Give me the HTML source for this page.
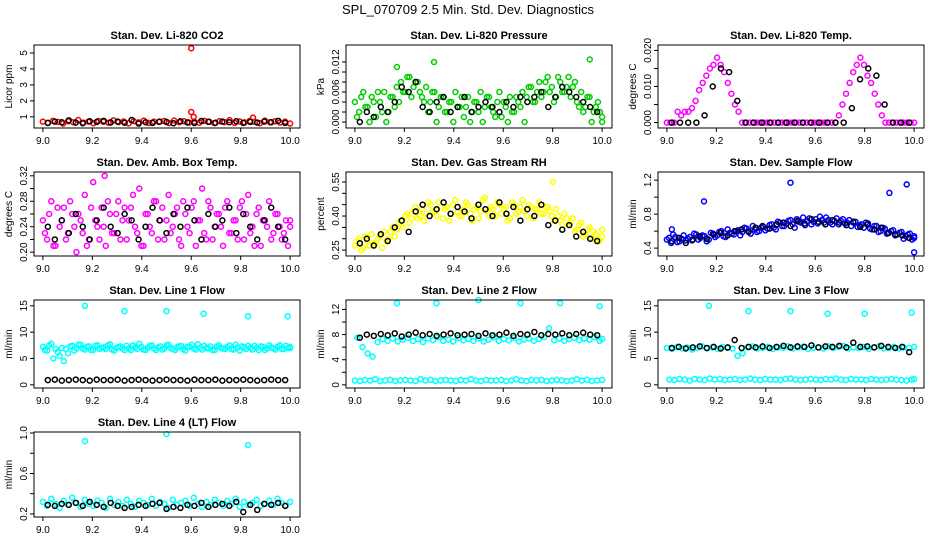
<!DOCTYPE html>
<html><head><meta charset="utf-8"><style>
body{margin:0;background:#fff;}
svg{display:block;font-family:"Liberation Sans",sans-serif;}
</style></head><body>
<svg id="c" width="936" height="540"></svg>
<script>
const xTicks=[9.0,9.2,9.4,9.6,9.8,10.0];
const co2Col=[0.70,0.62,0.75,0.68,0.58,0.72,0.66,0.80,0.64,0.70,0.60,0.74,0.69,0.63,0.78,0.67,0.71,0.59,0.73,0.65,0.76,0.62,0.70,0.68,0.74,0.61,0.77,0.66,0.72,0.64,0.70,0.63,0.75,0.69,0.60,0.73,0.67,0.79,0.62,0.71,0.65,0.74,0.68,0.60,0.76,0.66,0.72,0.64,0.70,0.58];
const co2Blk=[0.62,0.70,0.66,0.78,0.64,0.60,0.72,0.68,0.75,0.65,0.70,0.63,0.80,0.58,0.66,0.62,0.70,0.68,0.60,0.72,0.65,0.61,0.74,0.69,0.63,0.70,0.66,0.72,0.62,0.68,0.64,0.70,0.66,0.75,0.62];
const co2Out=[[9.6,5.3],[9.6,1.3],[9.61,1.0],[9.85,0.95]];
const presCol=[0.004,0.002,0.006,0.003,0.005,0.001,0.004,0.006,0.002,0.005,0.007,0.008,0.006,0.009,0.007,0.008,0.005,0.007,0.004,0.006,0.003,0.005,0.002,0.004,0.006,0.003,0.001,0.005,0.002,0.004,0.006,0.003,0.005,0.002,0.004,0.001,0.003,0.005,0.002,0.004,0.006,0.005,0.007,0.004,0.008,0.006,0.009,0.007,0.005,0.008,0.006,0.009,0.007,0.004,0.006,0.003,0.005,0.002,0.004,0.001];
const presCol2=[0.001,0.005,0.003,0.000,0.004,0.006,0.002,0.000,0.005,0.003,0.004,0.006,0.009,0.005,0.008,0.006,0.004,0.002,0.006,0.000,0.005,0.002,0.004,0.000,0.003,0.005,0.003,0.000,0.004,0.002,0.000,0.005,0.003,0.001,0.006,0.004,0.000,0.002,0.005,0.003,0.000,0.007,0.004,0.006,0.005,0.008,0.006,0.004,0.009,0.006,0.007,0.005,0.008,0.003,0.002,0.005,0.000,0.003,0.002,0.000];
const presBlk=[0.000,0.002,0.001,0.003,0.002,0.004,0.007,0.006,0.008,0.003,0.002,0.004,0.005,0.002,0.003,0.005,0.002,0.003,0.004,0.003,0.002,0.004,0.003,0.005,0.004,0.005,0.006,0.003,0.005,0.007,0.006,0.005,0.004,0.003,0.002];
const presOut=[[9.17,0.011],[9.32,0.012],[9.95,0.0125]];
const tempCol=[0,0,0,0.003,0.002,0.003,0.003,0.004,0.006,0.009,0.011,0.013,0.015,0.016,0.018,0.016,0.014,0.011,0.008,0.005,0.003,0,0,0,0,0,0,0,0,0,0,0,0,0,0,0,0,0,0,0,0,0,0,0,0,0,0,0,0.002,0.005,0.008,0.011,0.014,0.016,0.018,0.016,0.013,0.011,0.008,0.005,0.002,0,0,0,0,0,0,0,0,0];
const tempBlk=[0,0,0,0,0.002,0.010,0.015,0.014,0.006,0,0,0,0,0,0,0,0,0,0,0,0,0,0.004,0.012,0.015,0.013,0.005,0,0,0];
const ambCol=[0.25,0.22,0.28,0.21,0.24,0.27,0.23,0.26,0.20,0.25,0.29,0.22,0.31,0.24,0.27,0.21,0.26,0.23,0.28,0.25,0.22,0.27,0.24,0.30,0.21,0.26,0.23,0.28,0.25,0.22,0.29,0.24,0.27,0.21,0.26,0.23,0.28,0.25,0.30,0.22,0.27,0.24,0.26,0.21,0.28,0.23,0.25,0.27,0.22,0.29,0.24,0.26,0.21,0.25,0.28,0.23,0.26,0.22,0.25,0.24];
const ambCol2=[0.23,0.26,0.21,0.27,0.25,0.22,0.28,0.24,0.26,0.23,0.21,0.27,0.25,0.22,0.24,0.28,0.23,0.26,0.22,0.27,0.25,0.29,0.23,0.21,0.26,0.24,0.28,0.22,0.27,0.25,0.23,0.26,0.22,0.28,0.24,0.27,0.21,0.25,0.23,0.28,0.22,0.26,0.24,0.27,0.23,0.25,0.22,0.28,0.26,0.23,0.21,0.27,0.25,0.24,0.22,0.26,0.24,0.23,0.21,0.25];
const ambBlk=[0.24,0.22,0.25,0.23,0.26,0.24,0.22,0.25,0.27,0.24,0.23,0.26,0.25,0.22,0.24,0.27,0.25,0.23,0.26,0.24,0.27,0.25,0.22,0.26,0.24,0.25,0.27,0.23,0.26,0.24,0.22,0.25,0.27,0.24,0.22];
const ambOut=[[9.25,0.32]];
const rhCol=[0.27,0.30,0.26,0.29,0.32,0.28,0.31,0.33,0.30,0.35,0.34,0.38,0.40,0.37,0.42,0.39,0.43,0.41,0.45,0.42,0.46,0.39,0.44,0.41,0.47,0.40,0.43,0.45,0.38,0.44,0.42,0.48,0.40,0.43,0.46,0.41,0.44,0.39,0.45,0.42,0.47,0.40,0.44,0.43,0.46,0.41,0.44,0.40,0.43,0.38,0.41,0.36,0.39,0.34,0.37,0.32,0.35,0.33,0.30,0.34];
const rhCol2=[0.29,0.25,0.31,0.27,0.28,0.30,0.26,0.29,0.33,0.31,0.37,0.35,0.41,0.39,0.44,0.40,0.38,0.46,0.42,0.40,0.44,0.43,0.38,0.45,0.42,0.40,0.46,0.41,0.43,0.39,0.47,0.42,0.44,0.40,0.45,0.43,0.38,0.46,0.41,0.44,0.42,0.45,0.39,0.43,0.41,0.44,0.42,0.38,0.40,0.36,0.39,0.37,0.33,0.36,0.31,0.34,0.30,0.32,0.29,0.31];
const rhBlk=[0.28,0.30,0.27,0.32,0.29,0.35,0.38,0.33,0.42,0.45,0.40,0.43,0.46,0.41,0.44,0.42,0.39,0.45,0.43,0.40,0.46,0.41,0.44,0.38,0.43,0.40,0.45,0.36,0.38,0.34,0.36,0.31,0.33,0.30,0.29];
const rhOut=[[9.8,0.55]];
const sfCol=[0.50,0.46,0.53,0.48,0.55,0.51,0.49,0.56,0.52,0.54,0.50,0.57,0.55,0.60,0.53,0.58,0.56,0.61,0.59,0.63,0.57,0.62,0.60,0.65,0.63,0.68,0.62,0.70,0.66,0.72,0.68,0.74,0.70,0.67,0.75,0.71,0.69,0.73,0.76,0.70,0.72,0.68,0.74,0.70,0.66,0.71,0.67,0.64,0.69,0.62,0.66,0.60,0.63,0.58,0.61,0.56,0.59,0.54,0.57,0.52];
const sfCol2=[0.52,0.56,0.47,0.51,0.49,0.53,0.57,0.50,0.55,0.48,0.58,0.53,0.59,0.54,0.62,0.57,0.60,0.55,0.64,0.60,0.66,0.59,0.64,0.61,0.67,0.64,0.71,0.66,0.69,0.73,0.64,0.71,0.76,0.72,0.68,0.74,0.77,0.70,0.73,0.68,0.75,0.72,0.69,0.73,0.70,0.65,0.68,0.70,0.63,0.66,0.59,0.64,0.57,0.60,0.55,0.58,0.51,0.56,0.50,0.54];
const sfBlk=[0.48,0.52,0.46,0.50,0.54,0.51,0.56,0.58,0.55,0.60,0.62,0.59,0.64,0.66,0.63,0.68,0.70,0.66,0.72,0.69,0.74,0.71,0.68,0.73,0.70,0.67,0.71,0.65,0.68,0.62,0.64,0.58,0.56,0.55,0.52];
const sfOut=[[9.02,0.62],[9.15,0.95],[9.5,1.17],[9.9,1.05],[9.97,1.15],[10.0,0.35]];
const l1Col=[7.2,6.5,7.8,6.8,5.5,4.5,6.0,7.4,6.9,7.6,6.7,7.3,6.6,7.5,7.0,6.8,7.7,6.5,7.2,6.9,7.4,6.6,7.1,7.8,6.7,7.0,7.5,6.6,7.3,6.9,7.6,6.8,7.1,7.4,6.5,7.2,6.9,7.7,6.7,7.0,7.3,6.6,7.5,6.9,7.2,6.8,7.6,6.5,7.1,7.4,6.7,7.0,7.3,6.6,7.5,6.9,7.2,6.8,7.4,7.0];
const l1Col2=[6.6,7.5,5.0,6.2,7.0,6.8,7.3,6.5,7.6,6.9,7.2,6.6,7.4,6.8,7.1,7.5,6.7,7.0,7.3,6.6,6.9,7.5,6.8,7.2,6.6,7.4,6.9,7.1,6.7,7.5,7.0,6.6,7.3,6.8,7.2,7.6,6.7,7.0,7.4,6.9,6.6,7.3,7.0,6.8,7.5,6.7,7.1,7.3,6.8,7.0,7.4,6.6,7.2,6.9,7.1,6.7,7.5,6.8,7.0,7.2];
const l1Blk=[0.9,1.0,0.8,0.9,1.0,0.9,0.8,1.0,0.9,0.9,1.0,0.8,0.9,1.0,0.9,0.8,0.9,1.0,0.9,0.9,0.8,1.0,0.9,0.9,1.0,0.8,0.9,0.9,1.0,0.9,0.8,0.9,1.0,0.9,0.9];
const l1Out=[[9.17,15],[9.33,14],[9.5,14],[9.65,13.5],[9.83,13],[9.99,13]];
const l2Low=[0.7,0.6,0.8,0.7,0.9,0.6,0.7,0.8,0.6,0.7,0.8,0.7,0.6,0.9,0.7,0.8,0.6,0.7,0.8,0.7,0.6,0.8,0.7,0.9,0.7,0.6,0.8,0.7,0.7,0.8,0.6,0.7,0.9,0.7,0.6,0.8,0.7,0.8,0.6,0.7,0.8,0.7,0.6,0.7,0.9,0.7,0.8,0.6,0.7,0.8];
const l2High=[7.5,6.0,5.0,4.5,6.8,7.3,7.0,7.4,6.9,7.2,7.5,7.0,7.3,6.8,7.4,7.1,7.6,7.0,7.2,6.9,7.5,7.1,7.3,7.0,7.4,6.9,7.2,7.6,7.0,7.3,7.1,7.5,6.9,7.2,7.4,7.0,7.3,7.6,9.0,7.1,7.4,7.0,7.3,7.5,7.1,7.4,7.2,7.6,7.0,7.3];
const l2Blk=[7.5,8.0,7.8,8.1,7.9,8.2,7.7,8.0,8.3,7.9,8.1,7.8,8.0,8.2,7.9,8.0,8.1,7.8,8.2,7.9,8.0,8.3,7.8,8.1,8.0,8.4,7.9,8.1,8.0,8.2,7.9,8.1,8.3,8.0,7.9];
const l2Out=[[9.17,13],[9.33,13],[9.5,13.5],[9.67,13],[9.83,13],[9.99,12.5]];
const l3High=[7.0,6.8,7.2,6.9,7.1,6.7,7.0,7.3,6.9,7.1,6.8,7.2,7.0,6.9,5.5,6.0,7.1,7.3,6.9,7.0,7.2,6.8,7.1,7.0,7.3,6.9,7.1,7.2,6.8,7.0,7.1,6.9,7.3,7.0,7.2,7.4,6.9,7.1,7.0,7.2,6.8,7.1,7.3,6.9,7.0,7.2,6.9,7.1,7.0,7.2];
const l3Low=[1.0,0.9,1.1,1.0,0.8,1.1,1.0,0.9,1.2,1.0,1.1,0.9,1.0,1.1,0.9,1.0,1.2,1.0,0.9,1.1,1.0,1.0,0.9,1.1,1.2,1.0,0.9,1.0,1.1,1.0,0.9,1.1,1.0,1.2,1.0,0.9,1.1,1.0,1.0,0.9,1.1,1.0,0.9,1.0,1.1,1.0,0.9,0.8,1.0,1.1];
const l3Blk=[7.0,7.2,6.9,7.1,7.3,7.0,7.2,6.9,7.1,8.5,7.0,7.2,7.1,7.3,7.0,7.2,7.4,7.1,7.3,7.2,7.5,7.1,7.3,7.2,7.4,7.1,8.0,7.2,7.3,7.1,7.4,7.2,7.0,7.2,6.2];
const l3Out=[[9.17,15],[9.33,14],[9.5,14],[9.65,13.5],[9.8,13.5],[9.99,13.7]];
const l4Col=[0.32,0.28,0.35,0.30,0.26,0.33,0.29,0.36,0.31,0.27,0.34,0.30,0.28,0.33,0.31,0.26,0.35,0.29,0.32,0.28,0.34,0.30,0.27,0.33,0.31,0.29,0.35,0.28,0.32,0.30,0.26,0.34,0.29,0.31,0.33,0.28,0.36,0.30,0.27,0.32,0.29,0.34,0.31,0.28,0.33,0.30,0.35,0.27,0.32,0.29,0.31,0.34,0.28,0.30,0.33,0.29,0.35,0.31,0.28,0.32];
const l4Blk=[0.29,0.28,0.30,0.29,0.31,0.28,0.32,0.29,0.27,0.31,0.28,0.26,0.27,0.29,0.28,0.30,0.31,0.25,0.27,0.26,0.29,0.28,0.31,0.27,0.29,0.30,0.28,0.32,0.22,0.29,0.24,0.30,0.29,0.31,0.28];
const l4Out=[[9.17,0.92],[9.5,0.99],[9.83,0.88]];

const NS="http://www.w3.org/2000/svg";
const svg=document.getElementById('c');
function mk(tag,attrs,parent){const e=document.createElementNS(NS,tag);for(const k in attrs)e.setAttribute(k,attrs[k]);(parent||svg).appendChild(e);return e;}
const t0=mk('text',{x:468,y:14,'text-anchor':'middle','font-size':13});
t0.textContent='SPL_070709  2.5 Min. Std. Dev. Diagnostics';



const panels=[
 {name:'co2',title:'Stan. Dev. Li-820 CO2',ylab:'Licor ppm',c:0,r:0,ymin:0.3,ymax:5.5,yt:[1,2,3,4,5],lab:1,fmt:v=>String(v),col:'#ff0000',series:[co2Col],blk:co2Blk,out:co2Out},
 {name:'pressure',title:'Stan. Dev. Li-820 Pressure',ylab:'kPa',c:1,r:0,ymin:-0.0012,ymax:0.0154,yt:[0,0.002,0.004,0.006,0.008,0.010,0.012],lab:3,fmt:v=>v.toFixed(3),col:'#00cc00',series:[presCol,presCol2],blk:presBlk,out:presOut},
 {name:'temp',title:'Stan. Dev. Li-820 Temp.',ylab:'degrees C',c:2,r:0,ymin:-0.0015,ymax:0.0215,yt:[0,0.005,0.010,0.015,0.020],lab:2,fmt:v=>v.toFixed(3),col:'#ff00ff',series:[tempCol],blk:tempBlk,out:[]},
 {name:'amb-box-temp',title:'Stan. Dev. Amb. Box Temp.',ylab:'degrees C',c:0,r:1,ymin:0.194,ymax:0.326,yt:[0.20,0.22,0.24,0.26,0.28,0.30,0.32],lab:2,fmt:v=>v.toFixed(2),col:'#ff00ff',series:[ambCol,ambCol2],blk:ambBlk,out:ambOut},
 {name:'gas-rh',title:'Stan. Dev. Gas Stream RH',ylab:'percent',c:1,r:1,ymin:0.224,ymax:0.594,yt:[0.25,0.30,0.35,0.40,0.45,0.50,0.55],lab:3,fmt:v=>v.toFixed(2),col:'#ffff00',series:[rhCol,rhCol2],blk:rhBlk,out:rhOut},
 {name:'sample-flow',title:'Stan. Dev. Sample Flow',ylab:'ml/min',c:2,r:1,ymin:0.307,ymax:1.296,yt:[0.4,0.6,0.8,1.0,1.2],lab:2,fmt:v=>v.toFixed(1),col:'#0000ff',series:[sfCol,sfCol2],blk:sfBlk,out:sfOut},
 {name:'line1-flow',title:'Stan. Dev. Line 1 Flow',ylab:'ml/min',c:0,r:2,ymin:-0.6,ymax:16.1,yt:[0,5,10,15],lab:1,fmt:v=>String(v),col:'#00ffff',series:[l1Col,l1Col2],blk:l1Blk,out:l1Out},
 {name:'line2-flow',title:'Stan. Dev. Line 2 Flow',ylab:'ml/min',c:1,r:2,ymin:-0.5,ymax:13.5,yt:[0,2,4,6,8,10,12],lab:2,fmt:v=>String(v),col:'#00ffff',series:[l2Low,l2High],blk:l2Blk,out:l2Out},
 {name:'line3-flow',title:'Stan. Dev. Line 3 Flow',ylab:'ml/min',c:2,r:2,ymin:-0.6,ymax:16.1,yt:[0,5,10,15],lab:1,fmt:v=>String(v),col:'#00ffff',series:[l3High,l3Low],blk:l3Blk,out:l3Out},
 {name:'line4-flow',title:'Stan. Dev. Line 4 (LT) Flow',ylab:'ml/min',c:0,r:3,ymin:0.17,ymax:1.01,yt:[0.2,0.4,0.6,0.8,1.0],lab:2,fmt:v=>v.toFixed(1),col:'#00ffff',series:[l4Col],blk:l4Blk,out:l4Out}
];
const rows=[[45,128],[172,256],[300,388],[432,517]];
const XMIN=8.964,XMAX=10.04;
panels.forEach(p=>{
 const L=34+312*p.c,W=266,T=rows[p.r][0],B=rows[p.r][1];
 const g=mk('g',{});
 
 
 const xs=v=>L+(v-XMIN)/(XMAX-XMIN)*W;
 const ys=v=>B-(v-p.ymin)/(p.ymax-p.ymin)*(B-T);
 const tt=mk('text',{x:L+W/2,y:T-6,'text-anchor':'middle','font-size':11,'font-weight':'bold'},g);
 tt.textContent=p.title;
 
 
 const pts=mk('g',{fill:'none','stroke-width':1.5},g);
 p.series.forEach((arr,si)=>{arr.forEach((v,i)=>{
  const x=9+i/(arr.length-1)+(si?0.5/(arr.length-1):0);
  const c=mk('circle',{cx:xs(Math.min(x,10)),cy:ys(v),r:2.5,stroke:p.col},pts);
  
  
 });});
 p.out.forEach(o=>{
  const c=mk('circle',{cx:xs(o[0]),cy:ys(o[1]),r:2.5,stroke:p.col},pts);
  
  
 });
 p.blk.forEach((v,i)=>{
  const x=9.02+i*0.96/(p.blk.length-1);
  const c=mk('circle',{cx:xs(x),cy:ys(v),r:2.5,stroke:'#000'},pts);
  
  
 });
 const box=mk('rect',{x:L,y:T,width:W,height:B-T,fill:'none',stroke:'#000','stroke-width':1},g);
 
 
 xTicks.forEach(v=>{
  mk('line',{x1:xs(v),x2:xs(v),y1:B,y2:B+4,stroke:'#000'},g);
  const t=mk('text',{x:xs(v),y:B+16,'text-anchor':'middle','font-size':10},g);
  t.textContent=v.toFixed(1);
  
  
 });
 p.yt.forEach((v,i)=>{
  mk('line',{x1:L-4,x2:L,y1:ys(v),y2:ys(v),stroke:'#000'},g);
  if(i%p.lab!==0)return;
  const t=mk('text',{x:L-7,y:ys(v),'text-anchor':'middle','font-size':10,transform:`rotate(-90 ${L-7} ${ys(v)})`},g);
  t.textContent=p.fmt(v);
  
  
 });
 const yl=mk('text',{x:L-22,y:(T+B)/2,'text-anchor':'middle','font-size':10,transform:`rotate(-90 ${L-22} ${(T+B)/2})`},g);
 yl.textContent=p.ylab;
 
 
});
</script>
</body></html>
